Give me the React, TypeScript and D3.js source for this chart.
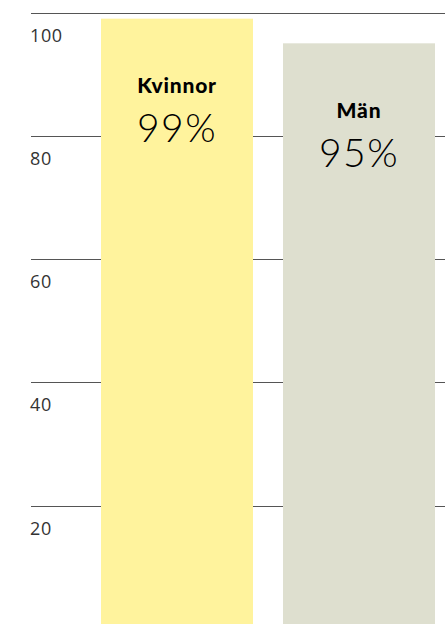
import React from "react";
import * as d3 from "d3";

const categories = ["Kvinnor", "Män"];
const values = [99, 95];
const valueLabels = ["99%", "95%"];
const colors = ["#FFF39D", "#DEDFCF"];
const ticks = [20, 40, 60, 80, 100];

const width = 445;
const height = 624;

export default function App() {
  const x = d3
    .scaleBand<string>()
    .domain(categories)
    .range([101, 435])
    .paddingInner(30 / 182)
    .paddingOuter(0);
  const y = d3.scaleLinear().domain([0, 100]).range([629, 12.5]);

  return (
    <svg
      width={width}
      height={height}
      style={{ position: "absolute", left: 0, top: 0 }}
    >
      {/* gridlines + tick labels under the bars */}
      {ticks.map((t) => (
        <g key={t}>
          <line
            x1={31}
            x2={width}
            y1={Math.round(y(t)) + 0.5}
            y2={Math.round(y(t)) + 0.5}
            stroke="#555"
            strokeWidth={1}
          />
          <text
            x={30}
            y={y(t) + 29}
            fontFamily="'Open Sans', sans-serif"
            fontSize={18}
            letterSpacing={0.6}
            fill="#333"
          >
            {t}
          </text>
        </g>
      ))}
      {categories.map((c, i) => {
        const bx = x(c)!;
        const cx = bx + x.bandwidth() / 2;
        return (
          <g key={c}>
            <rect
              x={bx}
              y={y(values[i])}
              width={x.bandwidth()}
              height={height - y(values[i])}
              fill={colors[i]}
            />
            <text
              x={cx}
              y={y(values[i]) + 74.5}
              textAnchor="middle"
              fontFamily="Lato, 'Open Sans', sans-serif"
              fontWeight={900}
              fontSize={21}
              letterSpacing={0.8}
              fill="#000"
            >
              {c}
            </text>
            <text
              x={cx}
              y={y(values[i]) + 123.5}
              textAnchor="middle"
              fontFamily="Lato, 'Open Sans', sans-serif"
              fontWeight={300}
              fontSize={39}
              letterSpacing={1.5}
              fill="#000"
            >
              {valueLabels[i]}
            </text>
          </g>
        );
      })}
    </svg>
  );
}
